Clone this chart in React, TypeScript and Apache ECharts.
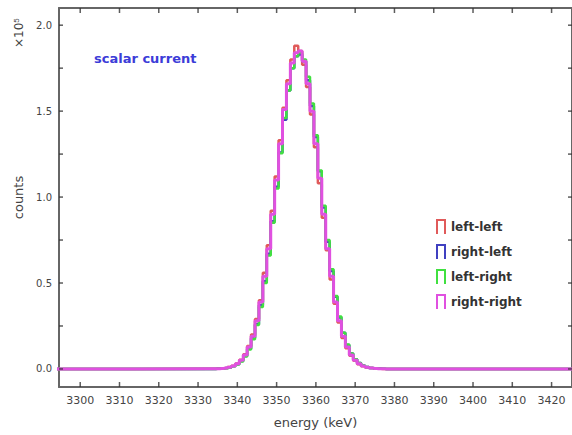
import React, { useEffect, useRef } from "react";
import * as echarts from "echarts";

// energy bin centres (keV); first and last points only carry the flat baseline
const energy = [
  3294, 3334, 3335, 3336, 3337, 3338, 3339, 3340, 3341, 3342, 3343, 3344, 3345, 3346, 3347, 3348,
  3349, 3350, 3351, 3352, 3353, 3354, 3355, 3356, 3357, 3358, 3359, 3360, 3361, 3362, 3363, 3364,
  3365, 3366, 3367, 3368, 3369, 3370, 3371, 3372, 3373, 3374, 3375, 3376, 3377, 3378, 3426,
];

// counts in units of 10^5
const leftLeft = [
  0, 0.001, 0.002, 0.003, 0.006, 0.011, 0.019, 0.032, 0.053, 0.086, 0.133, 0.2, 0.29, 0.4, 0.56, 0.72,
  0.92, 1.12, 1.33, 1.52, 1.68, 1.8, 1.88, 1.85, 1.77, 1.64, 1.48, 1.29, 1.08, 0.88, 0.69, 0.52,
  0.38, 0.27, 0.18, 0.12, 0.077, 0.047, 0.028, 0.016, 0.009, 0.005, 0.002, 0.001, 0, 0, 0,
];
const rightLeft = [
  0, 0, 0.001, 0.002, 0.005, 0.009, 0.015, 0.027, 0.046, 0.075, 0.118, 0.18, 0.26, 0.37, 0.51, 0.67,
  0.86, 1.06, 1.26, 1.45, 1.62, 1.75, 1.82, 1.83, 1.79, 1.68, 1.53, 1.35, 1.15, 0.94, 0.74, 0.57,
  0.42, 0.3, 0.21, 0.14, 0.09, 0.056, 0.034, 0.02, 0.011, 0.006, 0.003, 0.002, 0.001, 0, 0,
];
const leftRight = [
  0, 0, 0.001, 0.002, 0.004, 0.008, 0.015, 0.026, 0.044, 0.072, 0.113, 0.173, 0.255, 0.36, 0.5, 0.66,
  0.85, 1.05, 1.255, 1.46, 1.62, 1.75, 1.82, 1.84, 1.8, 1.7, 1.545, 1.36, 1.155, 0.95, 0.75, 0.58,
  0.425, 0.305, 0.21, 0.142, 0.09, 0.057, 0.035, 0.02, 0.012, 0.006, 0.0035, 0.0015, 0.001, 0, 0,
];
const rightRight = [
  0, 0.001, 0.001, 0.003, 0.005, 0.01, 0.017, 0.03, 0.05, 0.081, 0.127, 0.19, 0.28, 0.39, 0.54, 0.7,
  0.9, 1.1, 1.31, 1.51, 1.66, 1.78, 1.84, 1.85, 1.79, 1.66, 1.5, 1.31, 1.11, 0.9, 0.7, 0.54,
  0.39, 0.28, 0.19, 0.127, 0.081, 0.05, 0.03, 0.017, 0.01, 0.005, 0.003, 0.001, 0.001, 0, 0,
];

const seriesNames = ["left-left", "right-left", "left-right", "right-right"];
const seriesColors = ["#e05a5a", "#4040c0", "#40e040", "#e050e0"];
const seriesValues = [leftLeft, rightLeft, leftRight, rightRight];

const xTicks = [3300, 3310, 3320, 3330, 3340, 3350, 3360, 3370, 3380, 3390, 3400, 3410, 3420];
const yLabels = [0, 0.5, 1.0, 1.5, 2.0];
const yTicks = [0, 0.25, 0.5, 0.75, 1.0, 1.25, 1.5, 1.75, 2.0];

const X_MIN = 3294.6;
const X_MAX = 3425.2;
const Y_MIN = -0.105;
const Y_MAX = 2.1;

const PI_ICON = "path://M0,0 L10,0 L10,15 L8,15 L8,2 L2,2 L2,15 L0,15 Z";

export default function App() {
  const ref = useRef<HTMLDivElement>(null);
  useEffect(() => {
    if (!ref.current) return;
    const chart = echarts.init(ref.current, null, { renderer: "svg" });
    const font = "DejaVu Sans";
    const mkAxisLine = () => ({ show: true, onZero: false, lineStyle: { color: "#666", width: 2 } });
    const tickColor = "#333";
    // inward tick marks drawn as tiny rect symbols placed through the axes' scales
    const tickSeries = (data: number[][], size: number[], offset: number[]) => ({
      type: "scatter",
      xAxisIndex: 0,
      yAxisIndex: 0,
      clip: false,
      silent: true,
      symbol: "rect",
      symbolSize: size,
      symbolOffset: offset,
      itemStyle: { color: tickColor },
      data,
      z: 10,
    });
    chart.setOption({
      animation: false,
      backgroundColor: "#fff",
      title: {
        text: "scalar current",
        left: 89,
        top: 47,
        textStyle: { color: "#3c3cd8", fontSize: 13, fontWeight: "bold", fontFamily: font },
      },
      legend: {
        orient: "vertical",
        left: 431,
        top: 214,
        itemWidth: 10,
        itemHeight: 15,
        itemGap: 10,
        icon: PI_ICON,
        data: seriesNames,
        textStyle: { color: "#333", fontSize: 12, fontWeight: "bold", fontFamily: font },
      },
      grid: { left: 59, top: 8, right: 0, bottom: 48 },
      xAxis: [
        {
          type: "value",
          min: X_MIN,
          max: X_MAX,
          axisLine: mkAxisLine(),
          splitLine: { show: false },
          name: "energy (keV)",
          nameLocation: "middle",
          nameGap: 29,
          nameTextStyle: { color: "#444", fontSize: 13, fontFamily: font },
          axisTick: { show: false },
          axisLabel: {
            show: true,
            customValues: xTicks,
            margin: 8,
            color: "#444",
            fontSize: 11,
            fontFamily: font,
            formatter: (v: number) => String(Math.round(v)),
          },
        },
        {
          type: "value",
          position: "top",
          min: X_MIN,
          max: X_MAX,
          axisLine: mkAxisLine(),
          splitLine: { show: false },
          axisTick: { show: false },
          axisLabel: { show: false },
        },
      ],
      yAxis: [
        {
          type: "value",
          min: Y_MIN,
          max: Y_MAX,
          axisLine: mkAxisLine(),
          splitLine: { show: false },
          name: "counts",
          nameLocation: "middle",
          nameRotate: 90,
          nameGap: 32,
          nameTextStyle: { color: "#444", fontSize: 13, fontFamily: font },
          axisTick: { show: false },
          axisLabel: {
            show: true,
            customValues: yLabels,
            margin: 7,
            color: "#444",
            fontSize: 10,
            fontFamily: font,
            formatter: (v: number) => v.toFixed(1),
          },
        },
        {
          type: "value",
          position: "right",
          min: Y_MIN,
          max: Y_MAX,
          axisLine: mkAxisLine(),
          splitLine: { show: false },
          axisTick: { show: false },
          axisLabel: { show: false },
        },
      ],
      graphic: [
        {
          type: "text",
          x: 12,
          y: 48,
          rotation: Math.PI / 2,
          style: {
            text: "×10{s|5}",
            fill: "#444",
            font: `12px "${font}"`,
            rich: { s: { fontSize: 8, verticalAlign: "top", fill: "#444", padding: [0, 0, 6, 0] } },
          },
        },
      ],
      series: [
        ...seriesNames.map((name, i) => ({
          name,
          type: "line",
          step: "middle",
          xAxisIndex: 0,
          yAxisIndex: 0,
          color: seriesColors[i],
          showSymbol: false,
          lineStyle: { width: i === 3 ? 3 : 2.5, color: seriesColors[i] },
          data: energy.map((e, k) => [e, seriesValues[i][k]]),
          z: 2 + i,
        })),
        tickSeries(xTicks.map((v) => [v, Y_MIN]), [1.5, 5], [0, -2.5]),
        tickSeries(xTicks.map((v) => [v, Y_MAX]), [1.5, 5], [0, 2.5]),
        tickSeries(yTicks.map((v) => [X_MIN, v]), [4, 1.5], [2, 0]),
        tickSeries(yTicks.map((v) => [X_MAX, v]), [4, 1.5], [-2, 0]),
      ],
    });
    return () => chart.dispose();
  }, []);
  return <div ref={ref} style={{ position: "fixed", left: 0, top: 0, width: 572, height: 435 }} />;
}
